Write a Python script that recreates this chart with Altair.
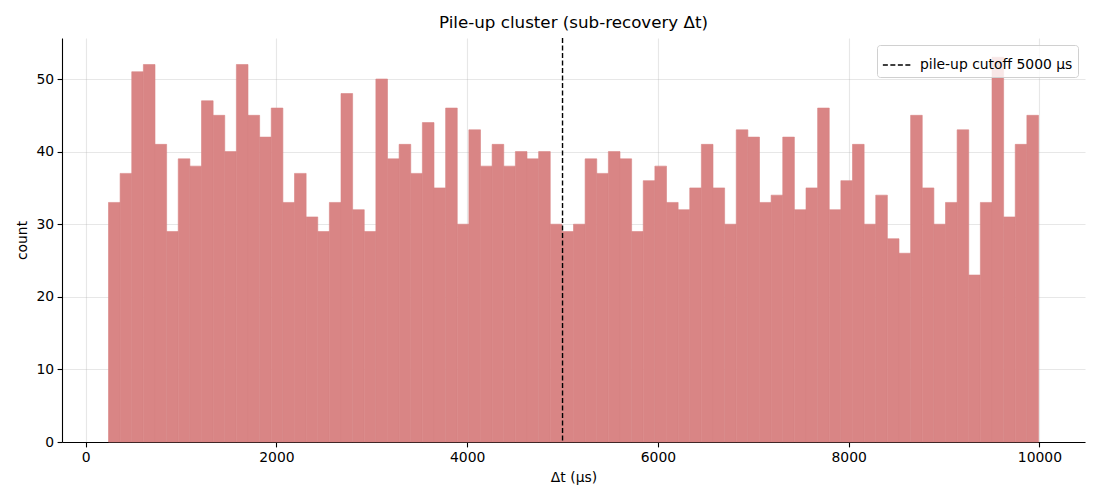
import altair as alt
import pandas as pd

# ---- data ----
bin_start = 240.0
bin_width = 121.875
counts = [33, 37, 51, 52, 41, 29, 39, 38, 47, 45,
          40, 52, 45, 42, 46, 33, 37, 31, 29, 33,
          48, 32, 29, 50, 39, 41, 37, 44, 35, 46,
          30, 43, 38, 41, 38, 40, 39, 40, 30, 29,
          30, 39, 37, 40, 39, 29, 36, 38, 33, 32,
          35, 41, 35, 30, 43, 42, 33, 34, 42, 32,
          35, 46, 32, 36, 41, 30, 34, 28, 26, 45,
          35, 30, 33, 43, 23, 33, 53, 31, 41, 45]
cutoff = 5000
cutoff_label = "pile-up cutoff 5000 μs"
x_ticks = [0, 2000, 4000, 6000, 8000, 10000]
y_ticks = [0, 10, 20, 30, 40, 50]

bars = pd.DataFrame({
    "lo": [bin_start + i * bin_width for i in range(len(counts))],
    "hi": [bin_start + (i + 1) * bin_width for i in range(len(counts))],
    "count": counts,
})
cut = pd.DataFrame({"x": [cutoff], "label": [cutoff_label]})

FONT = "DejaVu Sans"
BAR = "#d98585"
xscale = alt.Scale(domain=[-247.5, 10477.5], nice=False, zero=False)
yscale = alt.Scale(domain=[0, 55.65], nice=False)

hist = alt.Chart(bars).mark_rect(fill=BAR, stroke=BAR, strokeWidth=0.6).encode(
    x=alt.X("lo:Q", scale=xscale, title="Δt (μs)",
            axis=alt.Axis(values=x_ticks, format="d")),
    x2="hi:Q",
    y=alt.Y("count:Q", scale=yscale, title="count",
            axis=alt.Axis(values=y_ticks, format="d")),
    y2=alt.datum(0),
)

rule = alt.Chart(cut).mark_rule(strokeDash=[5, 2.5], strokeWidth=1.4).encode(
    x=alt.X("x:Q", scale=xscale),
    color=alt.Color("label:N", scale=alt.Scale(range=["black"]),
                    legend=alt.Legend(title=None, orient="top-right", offset=7,
                                      symbolType="stroke", symbolDash=[5, 2.5],
                                      symbolStrokeWidth=1.4, symbolSize=800,
                                      labelFontSize=13.9, labelFont=FONT,
                                      fillColor="rgba(255,255,255,0.8)",
                                      strokeColor="#d0d0d0",
                                      cornerRadius=3, padding=5,
                                      labelOffset=8, zindex=5)),
)

chart = alt.layer(hist, rule).properties(
    width=1023, height=404,
    title=alt.TitleParams("Pile-up cluster (sub-recovery Δt)", fontSize=16.7,
                          font=FONT, fontWeight="normal", offset=6, color="black"),
    autosize=alt.AutoSizeParams(type="none"),
    padding={"left": 54, "top": 30, "right": 5, "bottom": 50},
).configure_axis(
    zindex=1,
    labelFont=FONT, titleFont=FONT, labelFontSize=13.9, titleFontSize=13.9,
    titleFontWeight="normal", labelColor="black", titleColor="black",
    domainColor="black", domainWidth=1.1, tickColor="black", tickWidth=1.1,
    tickSize=4.9, labelPadding=3.5, grid=True, gridColor="#b0b0b0",
    gridOpacity=0.3, gridWidth=1.1,
).configure_legend(zindex=5).configure_axisX(titlePadding=6).configure_axisY(
    titlePadding=6
).configure_view(stroke=None)

chart.save("out.html", embed_options={"renderer": "svg", "actions": False})
